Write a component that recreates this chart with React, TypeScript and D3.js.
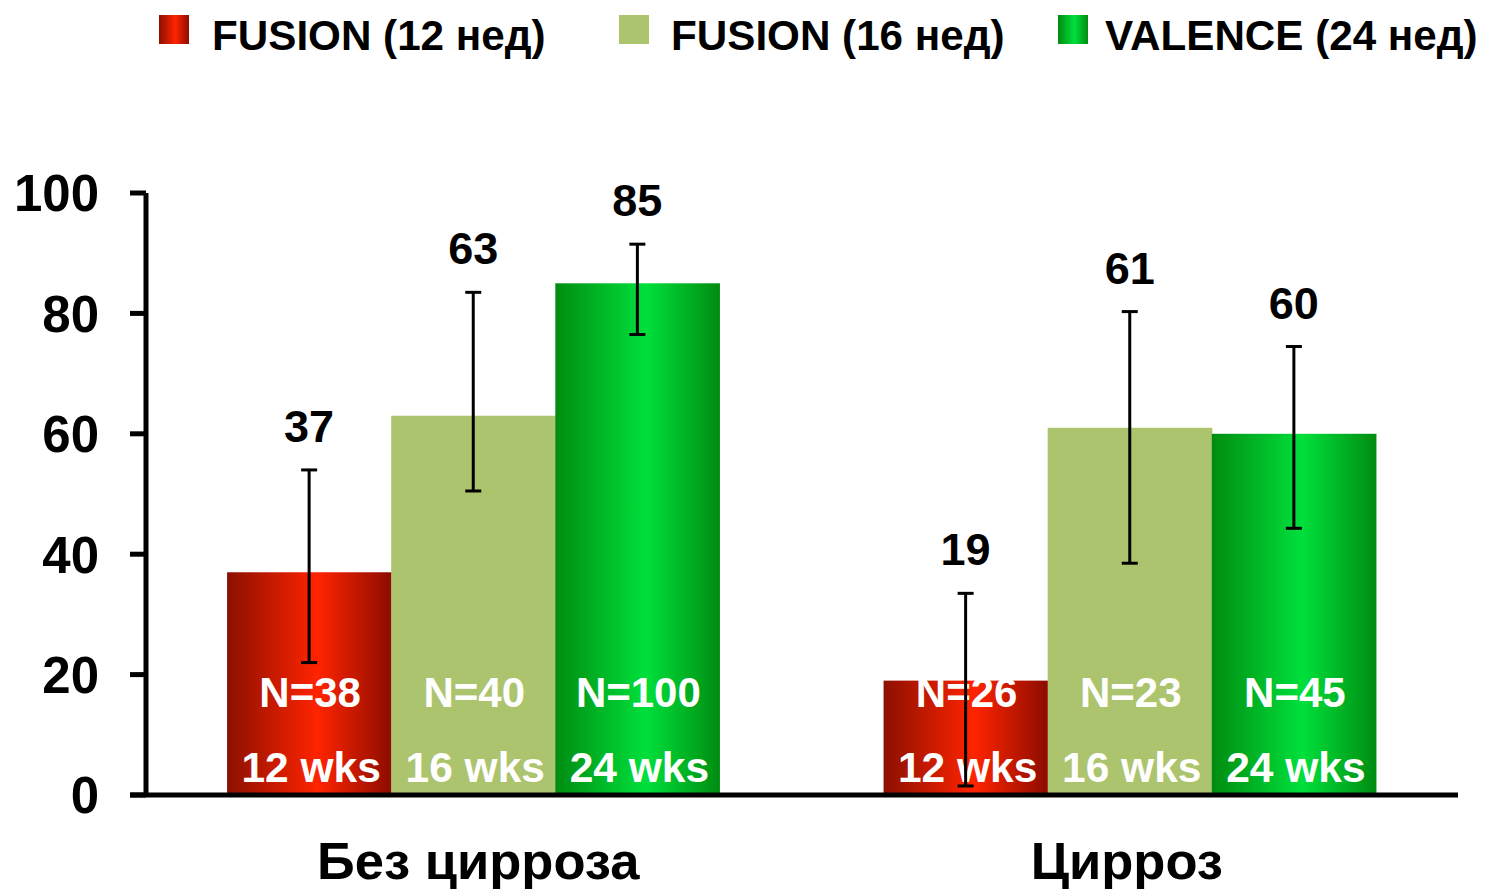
import * as d3 from 'd3';

const categories = ['Без цирроза', 'Цирроз'];
const seriesKeys = ['f12', 'f16', 'v24'];
const seriesNames = ['FUSION (12 нед)', 'FUSION (16 нед)', 'VALENCE (24 нед)'];
const weekLabels = ['12 wks', '16 wks', '24 wks'];

// values per category, in series order
const noCirrhosisValues = [37, 63, 85];
const cirrhosisValues = [19, 61, 60];
const noCirrhosisLow = [22, 50.5, 76.5];
const noCirrhosisHigh = [54, 83.5, 91.5];
const cirrhosisLow = [1.5, 38.5, 44.3];
const cirrhosisHigh = [33.5, 80.3, 74.5];
const noCirrhosisN = ['N=38', 'N=40', 'N=100'];
const cirrhosisN = ['N=26', 'N=23', 'N=45'];
const yTicks = [0, 20, 40, 60, 80, 100];

const W = 1486;
const H = 889;
const FONT = '"Liberation Sans", Arial, sans-serif';

const rows = categories.map((c, ci) => ({
  category: c,
  bars: seriesKeys.map((k, si) => ({
    key: k,
    value: ci === 0 ? noCirrhosisValues[si] : cirrhosisValues[si],
    low: ci === 0 ? noCirrhosisLow[si] : cirrhosisLow[si],
    high: ci === 0 ? noCirrhosisHigh[si] : cirrhosisHigh[si],
    n: ci === 0 ? noCirrhosisN[si] : cirrhosisN[si],
    wk: weekLabels[si],
  })),
}));

export default function App() {
  const x0 = d3.scaleBand<string>()
    .domain(categories)
    .range([145, 1458])
    .paddingInner(0.25)
    .paddingOuter(0.125);
  const x1 = d3.scaleBand<string>()
    .domain(seriesKeys)
    .range([0, x0.bandwidth()])
    .padding(0);
  const y = d3.scaleLinear().domain([0, 100]).range([795, 193]);

  const fill: Record<string, string> = {
    f12: 'url(#gRed)',
    f16: '#adc46e',
    v24: 'url(#gGreen)',
  };

  const legendX = [159, 619, 1058];
  const legendTextX = [212, 671, 1105];

  return (
    <svg width={W} height={H} style={{ display: 'block', position: 'absolute', left: 0, top: 0 }}>
      <defs>
        <linearGradient id="gRed" x1="0" x2="1" y1="0" y2="0">
          <stop offset="0%" stopColor="#8c1000" />
          <stop offset="55%" stopColor="#ff2400" />
          <stop offset="100%" stopColor="#8c0c00" />
        </linearGradient>
        <linearGradient id="gGreen" x1="0" x2="1" y1="0" y2="0">
          <stop offset="0%" stopColor="#008c10" />
          <stop offset="55%" stopColor="#00e03c" />
          <stop offset="100%" stopColor="#008c10" />
        </linearGradient>
      </defs>
      <rect width={W} height={H} fill="#fff" />

      {/* legend */}
      {seriesKeys.map((k, i) => (
        <g key={k}>
          <rect x={legendX[i]} y={15} width={30} height={29} fill={fill[k]} />
          <text x={legendTextX[i]} y={50} fontFamily={FONT} fontWeight="bold" fontSize={42.2} fill="#000">
            {seriesNames[i]}
          </text>
        </g>
      ))}

      {/* bars */}
      {rows.map(r => (
        <g key={r.category} transform={`translate(${x0(r.category)},0)`}>
          {r.bars.map(b => {
            const bx = x1(b.key) || 0;
            const cx = bx + x1.bandwidth() / 2;
            return (
              <g key={b.key}>
                <rect x={bx} y={y(b.value)} width={x1.bandwidth() + 0.5} height={y(0) - y(b.value)} fill={fill[b.key]} />
                <text x={cx + 1} y={707} textAnchor="middle" fontFamily={FONT} fontWeight="bold" fontSize={42} fill="#fff">{b.n}</text>
                <text x={cx + 2} y={782} textAnchor="middle" fontFamily={FONT} fontWeight="bold" fontSize={42.5} fill="#fff">{b.wk}</text>
              </g>
            );
          })}
          {r.bars.map(b => {
            const cx = (x1(b.key) || 0) + x1.bandwidth() / 2;
            return (
              <g key={b.key + '-err'} stroke="#000" strokeWidth={3}>
                <line x1={cx} x2={cx} y1={y(b.high)} y2={y(b.low)} />
                <line x1={cx - 8} x2={cx + 8} y1={y(b.high)} y2={y(b.high)} />
                <line x1={cx - 8} x2={cx + 8} y1={y(b.low)} y2={y(b.low)} />
                <text x={cx} y={y(b.high) - 28} textAnchor="middle" stroke="none" fontFamily={FONT} fontWeight="bold" fontSize={45} fill="#000">{b.value}</text>
              </g>
            );
          })}
        </g>
      ))}

      {/* axes */}
      <line x1={146} x2={146} y1={y(100)} y2={y(0)} stroke="#000" strokeWidth={5} />
      {yTicks.map(t => (
        <g key={t}>
          <line x1={130} x2={146} y1={y(t)} y2={y(t)} stroke="#000" strokeWidth={5} />
          <text x={99} y={y(t)} dy="0.36em" textAnchor="end" fontFamily={FONT} fontWeight="bold" fontSize={51} fill="#000">{t}</text>
        </g>
      ))}
      <line x1={130} x2={1458} y1={y(0)} y2={y(0)} stroke="#000" strokeWidth={5} />
      {categories.map((c, i) => (
        <text key={c} x={(x0(c) || 0) + x0.bandwidth() / 2 + (i === 0 ? 5 : -3)} y={879} textAnchor="middle" fontFamily={FONT} fontWeight="bold" fontSize={52.5} fill="#000">{c}</text>
      ))}
    </svg>
  );
}
